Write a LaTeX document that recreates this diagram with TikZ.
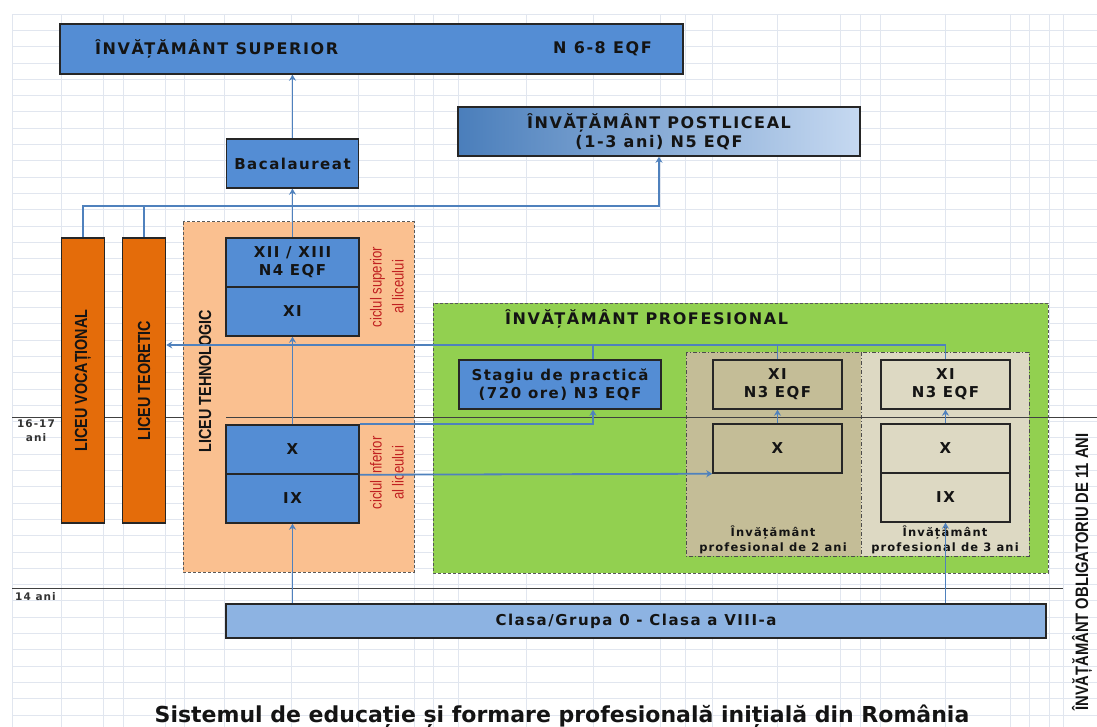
\documentclass[tikz,border=0pt]{standalone}
\usepackage{fontspec}
\setmainfont{DejaVu Sans}
\newfontfamily\widefont[LetterSpace=10]{DejaVu Sans}
\newfontfamily\narrowfont[FakeStretch=0.82]{Liberation Sans}
\usetikzlibrary{arrows.meta,calc}

\definecolor{boxblue}{RGB}{84,141,212}
\definecolor{connblue}{RGB}{79,129,189}
\definecolor{boxline}{RGB}{38,38,38}
\definecolor{orangebox}{RGB}{228,108,10}
\definecolor{tehfill}{RGB}{250,192,144}
\definecolor{greenfill}{RGB}{146,208,80}
\definecolor{tantwo}{RGB}{196,189,151}
\definecolor{tanthree}{RGB}{221,217,195}
\definecolor{clasafill}{RGB}{141,179,226}
\definecolor{postdark}{RGB}{74,126,187}
\definecolor{postlight}{RGB}{198,217,241}
\definecolor{gridcol}{RGB}{225,230,239}
\definecolor{ciclured}{RGB}{192,32,32}
\definecolor{txt}{RGB}{20,20,20}

\newcommand{\txtbig}{\fontsize{16}{19}\widefont\bfseries}
\newcommand{\txtbox}{\fontsize{15}{18}\widefont\bfseries}
\newcommand{\txtcap}{\fontsize{11.5}{15}\widefont\bfseries}
\newcommand{\txtage}{\fontsize{10.5}{14}\widefont\bfseries}
\newcommand{\txtliceu}{\fontsize{17.5}{20}\narrowfont\bfseries}
\newcommand{\txtciclu}{\fontsize{16}{22}\narrowfont}

\begin{document}
\begin{tikzpicture}[x=1pt,y=1pt,yscale=-1,xscale=1,
	gridline/.style={draw=gridcol,line width=0.7pt},
	ageline/.style={draw=black!75,line width=1pt},
	box/.style={draw=boxline,line width=1.5pt,inner sep=0pt,align=center,text=txt},
	bluebox/.style={box,fill=boxblue,font=\txtbox},
	liceubox/.style={box,fill=orangebox,minimum width=43,minimum height=285},
	tanbox/.style={box,font=\txtbox,minimum width=129,minimum height=49},
	region/.style={draw=black!65,line width=1pt,dash pattern=on 3pt off 2pt},
	yearregion/.style={draw=black!70,line width=0.9pt,dash pattern=on 4pt off 2pt on 1pt off 2pt},
	vlabel/.style={rotate=90,inner sep=1pt,align=center},
	line/.style={draw=connblue,line width=1.8pt},
	conn/.style={line,-{Stealth[length=6pt,width=7pt]}}]
	\useasboundingbox (0,0) rectangle (1097,727);
	
	%grid of the sheet
	\foreach \i in {0,...,43}
		\draw[gridline] (12,14+16.3*\i) -- (1097,14+16.3*\i);
	\foreach \x in {12,61,103,123,165,184,224,291,358,414,433,458,526,593,660,685,712,777,840,860,880,945,1010,1029,1049,1063}
		\draw[gridline] (\x,14) -- (\x,727);
	
	%Regions
	\draw[region,fill=tehfill] (183,222) rectangle (414,572);
	\draw[region,fill=greenfill] (433,303) rectangle (1048,573);
	\draw[yearregion,fill=tantwo] (686,352) rectangle (861,556);
	\draw[yearregion,fill=tanthree] (861,352) rectangle (1029,556);
	
	%age lines
	\draw[ageline] (12,417) -- (183,417);
	\draw[ageline] (226,417) -- (1097,417);
	\draw[ageline] (12,588) -- (1063,588);
	
	% Text Node
	\node[font=\txtage,align=center,text=black!80] (age16) at (36,431) {16-17\\ani};
	% Text Node
	\node[font=\txtage,anchor=west,inner sep=0pt,text=black!80] (age14) at (15,597) {14 ani};
	
	%top boxes
	\node[bluebox,minimum width=623,minimum height=50] (sup) at (371.5,49) {};
	\node[font=\txtbig,anchor=west,inner sep=0pt,text=txt] (suptxt) at (95,49) {ÎNVĂȚĂMÂNT SUPERIOR};
	\node[font=\txtbig,anchor=west,inner sep=0pt,text=txt] (supeqf) at (553,49) {N 6-8 EQF};
	\node[bluebox,minimum width=132,minimum height=49] (bac) at (292.5,163.5) {Bacalaureat};
	\node[box,font=\txtbig,left color=postdark,right color=postlight,minimum width=402,minimum height=49] (post) at (659,131.5) {ÎNVĂȚĂMÂNT POSTLICEAL\\(1-3 ani) N5 EQF};
	
	%licee
	\node[liceubox] (voc) at (83,380.5) {};
	\node[vlabel,font=\txtliceu,text=txt] (voctxt) at (83,380.5) {LICEU VOCAȚIONAL};
	\node[liceubox] (teo) at (144,380.5) {};
	\node[vlabel,font=\txtliceu,text=txt] (teotxt) at (144,380.5) {LICEU TEORETIC};
	\node[vlabel,font=\txtliceu,text=txt] (tehtxt) at (205,381) {LICEU TEHNOLOGIC};
	
	%liceu tehnologic
	\node[bluebox,minimum width=133,minimum height=49] (x12) at (292.5,262.5) {XII / XIII\\N4 EQF};
	\node[bluebox,minimum width=133,minimum height=49] (x11) at (292.5,311.5) {XI};
	\node[bluebox,minimum width=133,minimum height=49] (xx) at (292.5,449.5) {X};
	\node[bluebox,minimum width=133,minimum height=49] (ix) at (292.5,498.5) {IX};
	\node[vlabel,font=\txtciclu,text=ciclured] (cicsup) at (387,287) {ciclul superior\\al liceului};
	\node[vlabel,font=\txtciclu,text=ciclured] (cicinf) at (387,473) {ciclul inferior\\al liceului};
	
	%invatamant profesional
	\node[font=\txtbig,anchor=west,inner sep=0pt,text=txt] (proftxt) at (505,319) {ÎNVĂȚĂMÂNT PROFESIONAL};
	\node[bluebox,minimum width=202,minimum height=49] (stagiu) at (560,384.5) {Stagiu de practică\\(720 ore) N3 EQF};
	\node[tanbox,fill=tantwo] (a11) at (777.5,384.5) {XI\\N3 EQF};
	\node[tanbox,fill=tantwo] (a10) at (777.5,448.5) {X};
	\node[tanbox,fill=tanthree] (b11) at (945.5,384.5) {XI\\N3 EQF};
	\node[tanbox,fill=tanthree] (b10) at (945.5,448.5) {X};
	\node[tanbox,fill=tanthree] (b9) at (945.5,497.5) {IX};
	\node[font=\txtcap,align=center,text=txt] (cap2) at (773,540) {Învățământ\\profesional de 2 ani};
	\node[font=\txtcap,align=center,text=txt] (cap3) at (945,540) {Învățământ\\profesional de 3 ani};
	
	%bottom
	\node[box,fill=clasafill,font=\txtbox,minimum width=820,minimum height=34] (clasa) at (636,621) {Clasa/Grupa 0 - Clasa a VIII-a};
	\node[vlabel,font=\fontsize{18}{20}\narrowfont\bfseries,text=txt] (oblig) at (1082,572) {ÎNVĂȚĂMÂNT OBLIGATORIU DE 11 ANI};
	\node[font=\fontsize{22}{26}\selectfont\bfseries,text=txt] (title) at (562,716) {Sistemul de educație și formare profesională inițială din România};
	
	%Connectors
	\coordinate (topbus) at (0,206);
	\coordinate (midbus) at (0,345);
	\coordinate (stgtop) at ($(stagiu.north)+(33,0)$);
	\coordinate (stgbot) at ($(stagiu.south)+(33,0)$);
	\draw[conn] (bac.north) -- (bac.north |- sup.south);
	\draw[conn] (x12.north) -- (bac.south);
	\draw[conn] (voc.north) -- (voc.north |- topbus) -| (post.south);
	\draw[line] (teo.north) -- (teo.north |- topbus);
	\draw[conn] (b11.north) -- (b11.north |- midbus) -- (teo.east |- midbus);
	\draw[line] (a11.north) -- (a11.north |- midbus);
	\draw[line] (stgtop) -- (stgtop |- midbus);
	\draw[conn] (xx.north) -- (x11.south);
	\draw[conn] (xx.north east) -| (stgbot);
	\draw[conn] (xx.south east) -- (a10.south west);
	\draw[conn] (a10) -- (a11);
	\draw[conn] (b10) -- (b11);
	\draw[conn] (clasa.north -| ix.south) -- (ix.south);
	\draw[conn] (clasa.north -| b9.south) -- (b9.south);
	
\end{tikzpicture}
\end{document}
